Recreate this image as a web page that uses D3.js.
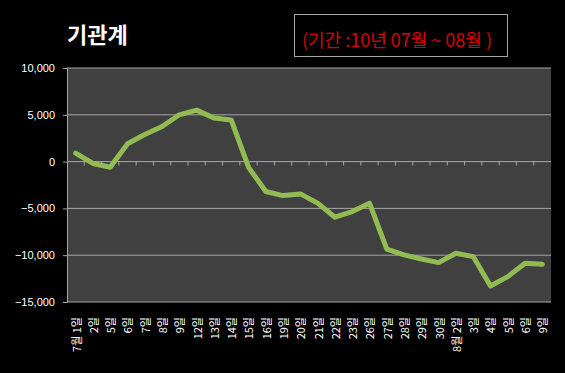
<!DOCTYPE html>
<html>
<head>
<meta charset="utf-8">
<script src="https://cdn.jsdelivr.net/npm/d3@7"></script>
<style>
  html, body { margin: 0; padding: 0; background: #000; }
  svg { display: block; }
</style>
</head>
<body>
<svg id="chart"></svg>
<script>
// 날짜 라벨
const days = ["7월 1일", "2일", "5일", "6일", "7일", "8일", "9일", "12일", "13일", "14일",
  "15일", "16일", "19일", "20일", "21일", "22일", "23일", "26일", "27일", "28일",
  "29일", "30일", "8월 2일", "3일", "4일", "5일", "6일", "9일"];
// 기관계 누적 순매수
const values = [900, -200, -600, 1900, 2900, 3750, 5000, 5500, 4650, 4450,
  -600, -3200, -3630, -3450, -4440, -5940, -5340, -4440, -9360, -9970,
  -10400, -10790, -9790, -10150, -13290, -12290, -10860, -10970];
const yTicks = [10000, 5000, 0, -5000, -10000, -15000];

const width = 565;
const height = 373;
const margin = { top: 68, right: 14, bottom: 71, left: 67 };

const svg = d3.select("#chart")
    .attr("width", width)
    .attr("height", height)
    .style("background-color", "#000");

// 같은 날짜 라벨이 반복되므로 인덱스로 위치를 잡는다
const xScale = d3.scaleBand()
    .domain(d3.range(days.length))
    .range([margin.left, width - margin.right]);
const xMid = i => xScale(i) + xScale.bandwidth() / 2;

const yScale = d3.scaleLinear()
    .domain([-15000, 10000])
    .range([height - margin.bottom, margin.top]);

// 플롯 영역
svg.append("rect")
    .attr("x", margin.left)
    .attr("y", margin.top)
    .attr("width", width - margin.left - margin.right)
    .attr("height", height - margin.top - margin.bottom)
    .style("fill", "#404040");

// 가로 눈금선
svg.append("g")
    .selectAll("line")
    .data(yTicks)
    .enter().append("line")
    .attr("x1", margin.left)
    .attr("x2", width - margin.right)
    .attr("y1", d => yScale(d))
    .attr("y2", d => yScale(d))
    .style("stroke", "#a6a6a6")
    .style("stroke-width", 1);

// y축
const yAxis = svg.append("g")
    .attr("transform", `translate(${margin.left}, 0)`)
    .call(d3.axisLeft(yScale).tickValues(yTicks).tickSize(4).tickPadding(8)
        .tickFormat(d3.format(",")));
yAxis.select(".domain").style("stroke", "#a6a6a6");
yAxis.selectAll(".tick line").style("stroke", "#a6a6a6");
yAxis.selectAll("text")
    .style("fill", "#fff")
    .style("font-family", "'Liberation Sans', sans-serif")
    .style("font-size", "11px");

// 0 기준선의 눈금
svg.append("g")
    .selectAll("line")
    .data(d3.range(1, days.length))
    .enter().append("line")
    .attr("x1", i => xScale(i))
    .attr("x2", i => xScale(i))
    .attr("y1", yScale(0))
    .attr("y2", yScale(0) + 4)
    .style("stroke", "#a6a6a6");

// x축 라벨 (세로)
svg.append("g")
    .selectAll("text")
    .data(days)
    .enter().append("text")
    .attr("transform", (d, i) => `translate(${xMid(i) + 1}, ${height - margin.bottom + 15}) rotate(-90)`)
    .attr("text-anchor", "end")
    .attr("dy", "0.35em")
    .style("fill", "#fff")
    .style("font-family", "'Noto Sans CJK KR', sans-serif")
    .style("font-size", "11px")
    .text(d => d);

// 선
const line = d3.line()
    .x((d, i) => xMid(i))
    .y(d => yScale(d));

svg.append("path")
    .datum(values)
    .attr("d", line)
    .style("fill", "none")
    .style("stroke", "#92bb52")
    .style("stroke-width", 5)
    .style("stroke-linejoin", "round")
    .style("stroke-linecap", "round");

// 제목
svg.append("text")
    .attr("x", 67)
    .attr("y", 43)
    .style("fill", "#fff")
    .style("font-family", "'Noto Sans CJK KR', sans-serif")
    .style("font-weight", "bold")
    .style("font-size", "22px")
    .text("기관계");

svg.append("rect")
    .attr("x", 294.5)
    .attr("y", 14.5)
    .attr("width", 213)
    .attr("height", 42)
    .style("fill", "none")
    .style("stroke", "#a6a6a6");

svg.append("text")
    .attr("x", 397)
    .attr("y", 47)
    .attr("text-anchor", "middle")
    .style("fill", "#d80000")
    .style("font-family", "'Noto Sans CJK KR', sans-serif")
    .style("font-size", "18px")
    .text("(기간 :10년 07월 ~ 08월 )");
</script>
</body>
</html>
